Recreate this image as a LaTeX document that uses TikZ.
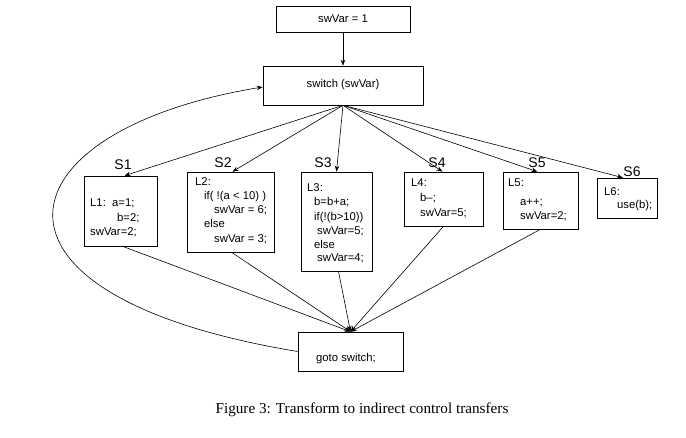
\documentclass[tikz,border=0pt]{standalone}
\usepackage{fontspec}
\setmainfont{Liberation Sans}
\newfontfamily\capfont{Liberation Serif}
\usetikzlibrary{arrows.meta,calc}
\begin{document}
\begin{tikzpicture}[x=1pt,y=-1pt,
  box/.style={draw,line width=0.6pt,inner sep=0pt},
  code/.style={anchor=base west,inner sep=0pt,font=\fontsize{11.3}{13}\selectfont},
  ctext/.style={inner sep=0pt,font=\fontsize{11.3}{13}\selectfont},
  slab/.style={inner sep=0pt,font=\fontsize{14}{16}\selectfont},
  arr/.style={line width=0.6pt,-{Stealth[length=6pt,width=4.5pt]}},
  ln/.style={line width=0.6pt}]
\useasboundingbox (0,0) rectangle (686,438);
% boxes
\node[box,minimum width=134pt,minimum height=26pt] (init) at (343,19) {};
\node[box,minimum width=160pt,minimum height=39pt] (sw) at (343,85.5) {};
\node[box,minimum width=73pt,minimum height=70pt] (s1) at (120.5,211) {};
\node[box,minimum width=87pt,minimum height=80pt] (s2) at (230.5,212) {};
\node[box,minimum width=71pt,minimum height=99pt] (s3) at (336.5,221.5) {};
\node[box,minimum width=79pt,minimum height=54pt] (s4) at (443.5,199) {};
\node[box,minimum width=75pt,minimum height=57pt] (s5) at (540.5,200.5) {};
\node[box,minimum width=60pt,minimum height=40pt] (s6) at (627,198) {};
\node[box,minimum width=105pt,minimum height=39pt] (gt) at (350.5,351.5) {};
% box texts
\node[ctext] (tinit) at (343,19) {swVar = 1};
\node[ctext] (tsw) at (343,85) {switch (swVar)};
\node[ctext] (tgt) at (346,359) {goto switch;};
\node[code] (a1) at (90,207) {L1:};
\node[code] (a2) at (112,207) {a=1;};
\node[code] (a3) at (117,222) {b=2;};
\node[code] (a4) at (90,236) {swVar=2;};
\node[code] (b1) at (195,186) {L2:};
\node[code] (b2) at (204,200) {if( !(a < 10) )};
\node[code] (b3) at (214,214) {swVar = 6;};
\node[code] (b4) at (204,228) {else};
\node[code] (b5) at (214,243) {swVar = 3;};
\node[code] (c1) at (307,192) {L3:};
\node[code] (c2) at (314,206) {b=b+a;};
\node[code] (c3) at (314,221) {if(!(b>10))};
\node[code] (c4) at (317,235) {swVar=5;};
\node[code] (c5) at (314,249) {else};
\node[code] (c6) at (317,262) {swVar=4;};
\node[code] (d1) at (411,187) {L4:};
\node[code] (d2) at (420,202) {b–;};
\node[code] (d3) at (420,217) {swVar=5;};
\node[code] (e1) at (508,187) {L5:};
\node[code] (e2) at (520,206) {a++;};
\node[code] (e3) at (520,220) {swVar=2;};
\node[code] (f1) at (604,196) {L6:};
\node[code] (f2) at (617,209) {use(b);};
% S labels
\node[slab] (l1) at (123,165) {S1};
\node[slab] (l2) at (223,163) {S2};
\node[slab] (l3) at (323,163) {S3};
\node[slab] (l4) at (437,163) {S4};
\node[slab] (l5) at (537,163) {S5};
\node[slab] (l6) at (632,172) {S6};
% connectors
\draw[arr] (init.south) -- (sw.north);
\draw[arr] (sw.south) -- ([xshift=4pt]s1.north);
\draw[arr] (sw.south) -- ([xshift=2pt]s2.north);
\draw[arr] (sw.south) -- (s3.north);
\draw[arr] (sw.south) -- ([xshift=-1pt]s4.north);
\draw[arr] (sw.south) -- ([xshift=-3pt]s5.north);
\draw[arr] (sw.south) -- ([xshift=-4pt]s6.north);
\draw[arr] ([xshift=2pt]s1.south) -- (gt.north);
\draw[arr] ([xshift=1pt]s2.south) -- (gt.north);
\draw[arr] ([xshift=2pt]s3.south) -- (gt.north);
\draw[arr] (s4.south) -- (gt.north);
\draw[arr] (s5.south) -- (gt.north);
\draw[arr] (gt.west) .. controls (-45,295) and (0,130) .. ([yshift=-1.5pt]sw.west);
% caption
\node[inner sep=0pt,font=\capfont\fontsize{15.2}{17}\selectfont] (cap) at (362,410) {Figure 3: Transform to indirect control transfers};
\end{tikzpicture}
\end{document}
